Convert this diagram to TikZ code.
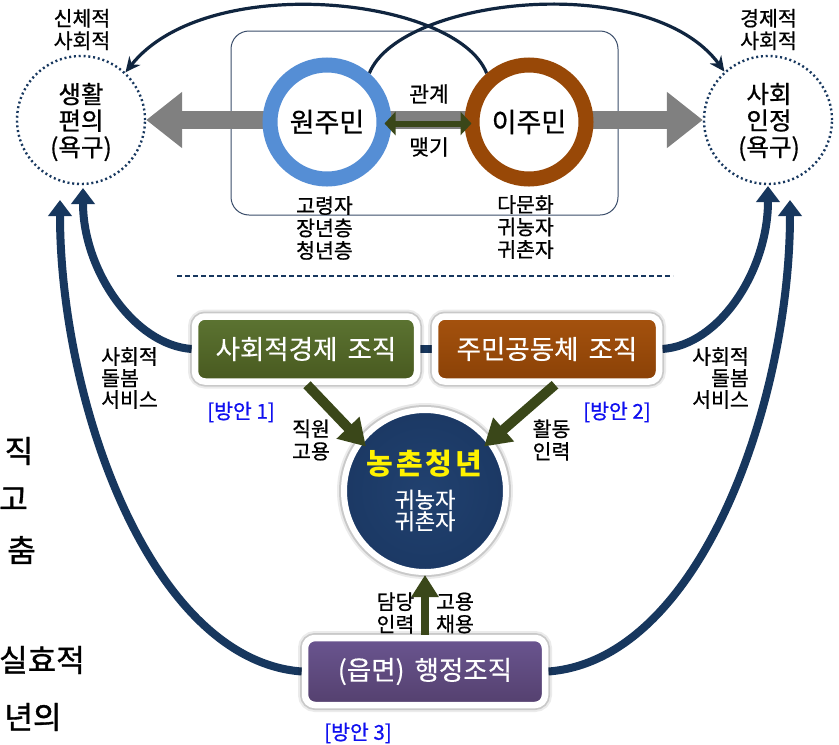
\documentclass[tikz,border=0pt]{standalone}
\usepackage{fontspec}
\setmainfont{Noto Sans CJK KR}[FakeBold=0.7]
\newfontfamily\boxfont[WordSpace=1.7,FakeBold=0.4]{Noto Sans CJK KR}
\newfontfamily\youthfont[LetterSpace=10]{Noto Sans CJK KR}
\newfontfamily\edgefont[FakeBold=1.2]{Noto Sans CJK KR}
\usetikzlibrary{arrows.meta,calc}
\pgfdeclarelayer{bg}
\pgfsetlayers{bg,main}

\definecolor{cnavy}{HTML}{17375E}
\definecolor{cnavyd}{HTML}{10253F}
\definecolor{cringblue}{HTML}{558ED5}
\definecolor{cringbrown}{HTML}{984807}
\definecolor{colive}{HTML}{3A4719}
\definecolor{cgray}{HTML}{808080}
\definecolor{cframe}{HTML}{3B4E6B}
\definecolor{cgreenT}{HTML}{5C7432}
\definecolor{cgreenB}{HTML}{48591F}
\definecolor{cbrownT}{HTML}{A5520E}
\definecolor{cbrownB}{HTML}{8A4106}
\definecolor{cpurpT}{HTML}{6A5590}
\definecolor{cpurpB}{HTML}{54406E}
\definecolor{cblue}{HTML}{1010F0}
\definecolor{ballin}{HTML}{21416F}
\definecolor{ballmid}{HTML}{1A3762}
\definecolor{ballout}{HTML}{132C52}
\pgfdeclareradialshading{navyball}{\pgfpoint{0bp}{0bp}}{color(0bp)=(ballin); color(30bp)=(ballmid); color(50bp)=(ballout)}

\begin{document}
\begin{tikzpicture}[x=1pt,y=-1pt,
  lbl/.style={inner sep=0pt, align=center, font=\fontsize{20.5}{22.5}\selectfont},
  biglbl/.style={inner sep=0pt, align=center, font=\fontsize{24.5}{26.5}\selectfont},
  ringtxt/.style={inner sep=0pt, font=\fontsize{27}{30}\selectfont},
  plantxt/.style={inner sep=0pt, text=cblue, font=\fontsize{20.5}{22}\selectfont},
  edgetxt/.style={inner sep=0pt, font=\edgefont\fontsize{31}{34}\selectfont},
  orgbox/.style={rounded corners=10pt, draw=white, line width=6.5pt, minimum height=65pt,
     inner sep=0pt, text=white, font=\boxfont\fontsize{26.5}{30}\selectfont,
     preaction={draw=black, opacity=.08, line width=14pt},
     preaction={draw=black, opacity=.14, line width=10pt}},
  ringnode/.style={circle, minimum size=114pt, line width=15pt, fill=white, inner sep=0pt},
  dotcircle/.style={circle, minimum size=128pt, draw=cnavy, line width=2.4pt, dash pattern=on 2pt off 2.8pt, inner sep=0pt},
  grayarrow/.style={draw=cgray, line width=18pt, -{Triangle[width=54pt,length=36pt]}},
  arcline/.style={draw=cnavyd, line width=3.2pt, -{Stealth[width=14pt,length=15pt]}},
  thickcurve/.style={draw=cnavy, line width=8pt, -{Triangle[width=23pt,length=16pt]}},
  olivediag/.style={draw=colive, line width=10pt, -{Triangle[width=30pt,length=26pt]}},
  olivevert/.style={draw=colive, line width=8.5pt, -{Triangle[width=26pt,length=22pt]}},
  olivedouble/.style={draw=colive, line width=6pt, {Triangle[width=23pt,length=11pt]}-{Triangle[width=23pt,length=11pt]}}
]
\useasboundingbox (0,0) rectangle (839,745);

% ---------- nodes ----------
\node[dotcircle] (life) at (81,120) {};
\node[dotcircle] (soc) at (768,120) {};
\node[ringnode, draw=cringblue] (won) at (327,122) {};
\node[ringnode, draw=cringbrown] (imm) at (529,122) {};

\node[orgbox, minimum width=222pt, top color=cgreenT, bottom color=cgreenB] (econ) at (306,349) {사회적경제 조직};
\node[orgbox, minimum width=224pt, top color=cbrownT, bottom color=cbrownB] (comm) at (547,349) {주민공동체 조직};
\node[orgbox, minimum width=240pt, minimum height=67pt, top color=cpurpT, bottom color=cpurpB] (admin) at (425,671.5) {(읍면) 행정조직};

\node[circle, minimum size=162pt, draw=white, line width=6pt, inner sep=0pt, shade, shading=navyball,
      preaction={draw=black, opacity=.08, line width=14pt},
      preaction={draw=black, opacity=.14, line width=10pt}] (youth) at (425,491) {};

\coordinate (lifeI) at (83,188);
\coordinate (lifeO) at (60,200);
\coordinate (socI) at (768,186);
\coordinate (socO) at (790,200);
\coordinate (mid) at (428,120);

% ---------- background connectors ----------
\begin{pgfonlayer}{bg}
\fill[white] (0,0) rectangle (839,745);
\draw[cframe, line width=1pt, rounded corners=18pt] (231,31) rectangle (618,215);
\draw[cnavy, line width=1.3pt, dash pattern=on 5pt off 3pt] (177,276) -- (673,276);
\draw[grayarrow] (mid) -- (life.east);
\draw[grayarrow] (mid) -- (soc.west);
\draw[arcline] (won.49) .. controls (400,-3) and (650,-30) .. (soc.132);
\draw[arcline] (imm.131) .. controls (457,-3) and (207,-30) .. (life.47);
\draw[thickcurve] (econ.west) .. controls (134,345) and (83,270) .. (lifeI);
\draw[thickcurve] (admin.west) .. controls (150,660) and (60,400) .. (lifeO);
\draw[thickcurve] (comm.east) .. controls (720,345) and (768,270) .. (socI);
\draw[thickcurve] (admin.east) .. controls (701,660) and (790,400) .. (socO);
\draw[cnavy, line width=8pt] (econ.east) -- (comm.west);
\end{pgfonlayer}

% ---------- foreground arrows ----------
\draw[olivedouble] ([xshift=-7pt,yshift=-1.5pt]won.east) -- ([xshift=7pt,yshift=-1.5pt]imm.west);
\draw[olivediag] ([xshift=1pt]econ.south) -- ($(youth.center)!0.88!(youth.143)$);
\draw[olivediag] ([xshift=8pt]comm.south) -- ($(youth.center)!0.88!(youth.37)$);
\draw[olivevert] (admin.north) -- (youth.south);

% ---------- texts ----------
\node[lbl] (t1) at (82,29.5) {신체적\\사회적};
\node[lbl] (t2) at (768.5,29.5) {경제적\\사회적};
\node[biglbl] (t3) at (81,122) {생활\\편의\\(욕구)};
\node[biglbl] (t4) at (769,122) {사회\\인정\\(욕구)};
\node[ringtxt] (t5) at (won.center) {원주민};
\node[ringtxt] (t6) at (imm.center) {이주민};
\node[lbl, font=\fontsize{21.5}{24}\selectfont] (t7) at (429,94) {관계};
\node[lbl, font=\fontsize{21.5}{24}\selectfont] (t8) at (429,147) {맺기};
\node[lbl] (t9) at (324.5,228) {고령자\\장년층\\청년층};
\node[lbl] (t10) at (525.5,227) {다문화\\귀농자\\귀촌자};
\node[lbl, align=left, anchor=west, font=\fontsize{20.5}{21.5}\selectfont] (t11) at (101,378) {사회적\\돌봄\\서비스};
\node[lbl, align=right, anchor=east, font=\fontsize{20.5}{21.5}\selectfont] (t12) at (749,378) {사회적\\돌봄\\서비스};
\node[plantxt] (p1) at (241,412) {[방안 1]};
\node[plantxt] (p2) at (617,412) {[방안 2]};
\node[plantxt] (p3) at (358,733) {[방안 3]};
\node[lbl] (t13) at (311,440) {직원\\고용};
\node[lbl] (t14) at (551.5,440) {활동\\인력};
\node[lbl] (t15) at (395.5,613) {담당\\인력};
\node[lbl] (t16) at (455,613) {고용\\채용};
\node[inner sep=0pt, text=yellow, font=\youthfont\bfseries\fontsize{29}{32}\selectfont] (t17) at (424.5,463.5) {농촌청년};
\node[lbl, text=white, font=\fontsize{22}{21.5}\selectfont] (t18) at (425,510.5) {귀농자\\귀촌자};

% ---------- cut-off texts at the left edge ----------
\node[edgetxt] (e1) at (19,451) {직};
\node[edgetxt, anchor=west] (e2) at (-1,499) {고};
\node[edgetxt] (e3) at (21.5,550) {춤};
\node[edgetxt, anchor=west] (e4) at (-1,660) {실효적};
\node[edgetxt] (e5) at (33,717) {년의};
\end{tikzpicture}
\end{document}
